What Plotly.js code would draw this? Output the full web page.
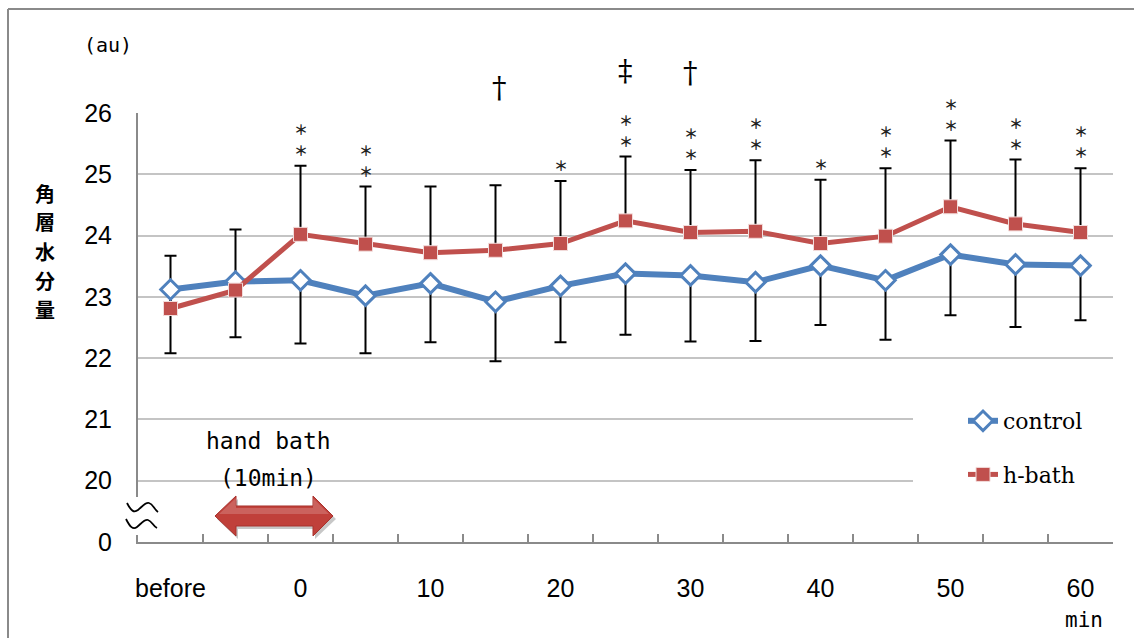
<!DOCTYPE html>
<html>
<head>
<meta charset="utf-8">
<script src="https://cdn.plot.ly/plotly-3.0.1.min.js"></script>
<style>html,body{margin:0;padding:0;background:#fff;}#chart{width:1134px;height:638px;}</style>
</head>
<body>
<div id="chart"></div>
<script>
// ---- data ----
const categories = ["before","-5","0","5","10","15","20","25","30","35","40","45","50","55","60"];
const tickLabels = ["before","","0","","10","","20","","30","","40","","50","","60"];
const control   = [23.12,23.25,23.27,23.02,23.22,22.92,23.18,23.38,23.35,23.24,23.51,23.27,23.69,23.53,23.51];
const controlSD = [1.04,0.91,1.03,0.94,0.96,0.97,0.92,1.00,1.08,0.96,0.97,0.97,0.99,1.02,0.89];
const hbath     = [22.81,23.11,24.02,23.86,23.72,23.76,23.87,24.24,24.05,24.07,23.87,23.99,24.47,24.19,24.05];
const hbathSD   = [0.86,0.99,1.12,0.94,1.08,1.06,1.02,1.05,1.02,1.16,1.04,1.11,1.08,1.05,1.05];
const stars     = ["","","**","**","","","*","**","**","**","*","**","**","**","**"];
const daggers   = ["","","","","","†","","‡","†","","","","","",""];
const yTickVals = [19,20,21,22,23,24,25,26];
const yTickText = ["0","20","21","22","23","24","25","26"];
const seriesNames = ["control","h-bath"];
const yTitle = "角層水分量";

// ---- layout helpers (pixel -> paper) ----
const W = 1134, H = 638, ML = 138, MR = 21, MT = 113, MB = 96;
const PW = W - ML - MR, PH = H - MT - MB;
const px = x => (x - ML) / PW;
const py = y => 1 - (y - MT) / PH;
const P = (x, y) => px(x).toFixed(5) + "," + py(y).toFixed(5);

const BLUE = "#4F81BD", RED = "#C0504D";

const traces = [
  { // h-bath error bars drawn underneath everything
    x: categories, y: hbath, type: "scatter", mode: "markers",
    marker: {size: 1, opacity: 0}, showlegend: false, hoverinfo: "skip",
    error_y: {type: "data", symmetric: false, array: hbathSD, arrayminus: hbathSD.map(() => 0),
              color: "#000", thickness: 2, width: 6}
  },
  {
    x: categories, y: control, type: "scatter", mode: "lines+markers", name: seriesNames[0],
    legendgroup: "a",
    line: {color: BLUE, width: 6},
    marker: {symbol: "diamond", size: 15, color: "#fff", line: {color: BLUE, width: 3}},
    error_y: {type: "data", symmetric: false, array: control.map(() => 0), arrayminus: controlSD,
              color: "#000", thickness: 2, width: 6}
  },
  {
    x: categories, y: hbath, type: "scatter", mode: "lines+markers", name: seriesNames[1],
    legendgroup: "b",
    line: {color: RED, width: 5},
    marker: {symbol: "square", size: 14, color: RED, line: {color: "#F2DCDB", width: 1}}
  }
];

const annotations = [];
// y axis title (stacked vertical characters)
yTitle.split("").forEach((c, i) => annotations.push({
  xref: "paper", yref: "paper", x: px(45), y: py(193 + i * 29), text: c, showarrow: false,
  xanchor: "center", yanchor: "middle", font: {family: "Noto Sans CJK JP", size: 20, color: "#000", weight: 700}
}));
annotations.push({xref: "paper", yref: "paper", x: px(108), y: py(45), text: "(au)", showarrow: false,
  xanchor: "center", yanchor: "middle", font: {family: "DejaVu Sans Mono", size: 20, color: "#000"}});
annotations.push({xref: "paper", yref: "paper", x: px(268), y: py(441), text: "hand bath", showarrow: false,
  xanchor: "center", yanchor: "middle", font: {family: "DejaVu Sans Mono", size: 23, color: "#000"}});
annotations.push({xref: "paper", yref: "paper", x: px(268), y: py(478), text: "(10min)", showarrow: false,
  xanchor: "center", yanchor: "middle", font: {family: "DejaVu Sans Mono", size: 23, color: "#000"}});
annotations.push({xref: "paper", yref: "paper", x: px(1084), y: py(620), text: "min", showarrow: false,
  xanchor: "center", yanchor: "middle", font: {family: "DejaVu Sans Mono", size: 21, color: "#000"}});
// significance marks (x as category index), one annotation per symbol
categories.forEach((c, i) => {
  const top = hbath[i] + hbathSD[i];
  stars[i].split("").forEach((s, k) => {
    annotations.push({x: i, y: top, xref: "x", yref: "y", showarrow: false, yanchor: "middle",
      text: "＊", yshift: 16 + 21 * k,
      font: {family: "Noto Sans CJK JP", size: 14, color: "#222", weight: 700}});
  });
  if (daggers[i]) {
    annotations.push({x: i, y: top, xref: "x", yref: "y", showarrow: false, yanchor: "middle",
      text: daggers[i], yshift: daggers[i] === "‡" ? 86 : 97, xshift: i === 5 ? 4 : 0,
      font: {family: "DejaVu Serif", size: 29, color: "#000"}});
  }
});

const shapes = [
  // outer frame (top and left)
  {type: "line", xref: "paper", yref: "paper", x0: px(8), y0: py(9), x1: px(1140), y1: py(9), line: {color: "#8a8a8a", width: 2}},
  {type: "line", xref: "paper", yref: "paper", x0: px(8), y0: py(9), x1: px(8), y1: py(645), line: {color: "#8a8a8a", width: 2}},
  // legend background hiding gridlines
  {type: "rect", xref: "paper", yref: "paper", x0: px(913), y0: py(392), x1: px(1120), y1: py(505), fillcolor: "#fff", line: {width: 0}, layer: "above"},
  // axis break gap
  {type: "rect", xref: "paper", yref: "paper", x0: px(132), y0: py(497), x1: px(144), y1: py(535), fillcolor: "#fff", line: {width: 0}, layer: "above"},
  // axis break waves
  {type: "path", xref: "paper", yref: "paper", layer: "above", line: {color: "#000", width: 1.8},
   path: "M" + P(127, 503) + " C" + P(131, 511) + " " + P(134, 513) + " " + P(138, 510) +
         " S" + P(145, 502) + " " + P(149, 503) + " S" + P(154, 509) + " " + P(158, 512)},
  {type: "path", xref: "paper", yref: "paper", layer: "above", line: {color: "#000", width: 1.8},
   path: "M" + P(126, 519) + " C" + P(130, 527) + " " + P(133, 530) + " " + P(137, 527) +
         " S" + P(144, 519) + " " + P(148, 520) + " S" + P(153, 526) + " " + P(157, 528)},
  // hand bath arrow shadow
  {type: "path", xref: "paper", yref: "paper", layer: "above", fillcolor: "rgba(0,0,0,0.22)", line: {width: 0},
   path: "M" + P(217, 519) + " L" + P(238, 499) + " L" + P(238, 509) + " L" + P(315, 509) + " L" + P(315, 499) +
         " L" + P(336, 519) + " L" + P(315, 539) + " L" + P(315, 529) + " L" + P(238, 529) + " L" + P(238, 539) + " Z"},
  // hand bath arrow
  {type: "path", xref: "paper", yref: "paper", layer: "above", fillcolor: "#C0403A", line: {color: "#A8322D", width: 1},
   path: "M" + P(215, 516) + " L" + P(236, 496) + " L" + P(236, 506) + " L" + P(313, 506) + " L" + P(313, 496) +
         " L" + P(333, 516) + " L" + P(313, 536) + " L" + P(313, 526) + " L" + P(236, 526) + " L" + P(236, 536) + " Z"},
  {type: "path", xref: "paper", yref: "paper", layer: "above", fillcolor: "rgba(255,255,255,0.18)", line: {width: 0},
   path: "M" + P(219, 514) + " L" + P(236, 498) + " L" + P(236, 508) + " L" + P(313, 508) + " L" + P(313, 498) +
         " L" + P(329, 514) + " Z"}
];

const layout = {
  width: W, height: H,
  margin: {l: ML, r: MR, t: MT, b: MB, pad: 0},
  paper_bgcolor: "#fff", plot_bgcolor: "#fff",
  showlegend: true,
  legend: {x: px(963), y: py(400), xanchor: "left", yanchor: "top", bgcolor: "rgba(0,0,0,0)",
           font: {family: "DejaVu Serif", size: 22, color: "#000"}, tracegroupgap: 22, traceorder: "grouped"},
  xaxis: {
    type: "category", categoryorder: "array", categoryarray: categories,
    range: [-0.5, categories.length - 0.5], autorange: false,
    tickmode: "array", tickvals: categories, ticktext: tickLabels, tickangle: 0,
    tickson: "boundaries", ticks: "inside", ticklen: 8, tickwidth: 1.5, tickcolor: "#8a8a8a",
    showline: true, linecolor: "#8a8a8a", linewidth: 2, showgrid: false, zeroline: false,
    ticklabelstandoff: 23,
    tickfont: {family: "Liberation Sans, Arial", size: 25, color: "#000"}
  },
  yaxis: {
    range: [19, 26], autorange: false, tickmode: "array", tickvals: yTickVals, ticktext: yTickText,
    showline: true, linecolor: "#8a8a8a", linewidth: 2,
    showgrid: true, gridcolor: "#c4c4c4", gridwidth: 2, zeroline: false,
    ticks: "", ticklabelstandoff: 19,
    tickfont: {family: "Liberation Sans Narrow, Arial Narrow, Liberation Sans", size: 25, color: "#000"}
  },
  annotations: annotations,
  shapes: shapes
};

Plotly.newPlot("chart", traces, layout, {displayModeBar: false, staticPlot: true});
</script>
</body>
</html>
